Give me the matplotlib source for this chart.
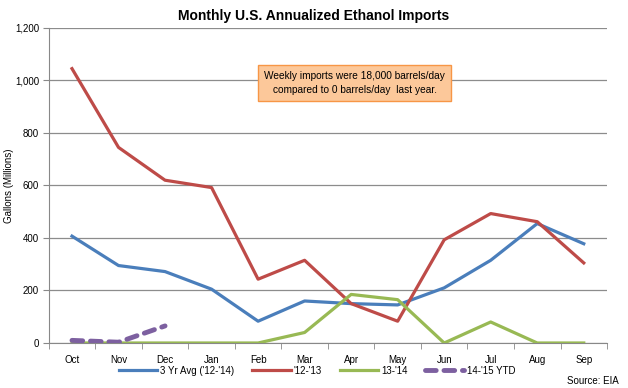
import matplotlib.pyplot as plt
import numpy as np
from matplotlib.ticker import FuncFormatter, FixedLocator

plt.rcParams['font.family'] = ['Liberation Sans', 'DejaVu Sans']

months = ["Oct", "Nov", "Dec", "Jan", "Feb", "Mar", "Apr", "May", "Jun", "Jul", "Aug", "Sep"]
avg_12_14 = [407, 295, 272, 205, 83, 160, 150, 145, 210, 315, 455, 378]
yr_12_13 = [1045, 745, 620, 592, 243, 315, 150, 83, 393, 493, 462, 305]
yr_13_14 = [0, 0, 0, 0, 0, 40, 185, 165, 0, 80, 0, 0]
ytd_14_15 = [10, 3, 65]

fig = plt.figure(figsize=(6.28, 3.88), dpi=100)
ax = fig.add_axes([0.0776, 0.116, 0.889, 0.812])

x = np.arange(len(months))
ax.plot(x, avg_12_14, color="#4a7ebb", lw=2.3, label="3 Yr Avg ('12-'14)", zorder=3)
ax.plot(x, yr_12_13, color="#be4b48", lw=2.3, label="'12-'13", zorder=3)
ax.plot(x, yr_13_14, color="#98b954", lw=2.3, label="13-'14", zorder=3)
ax.plot(x[:len(ytd_14_15)], ytd_14_15, color="#7d60a0", lw=3.5, ls=(0, (2.2, 1.6)),
        dash_capstyle="round", label="14-'15 YTD", zorder=4)

ax.set_xlim(-0.5, len(months) - 0.5)
ax.set_ylim(0, 1200)
ax.set_yticks(range(0, 1201, 200))
ax.yaxis.set_major_formatter(FuncFormatter(lambda v, p: f"{int(v):,}"))
ax.set_xticks(x)
ax.set_xticklabels(months)
ax.xaxis.set_minor_locator(FixedLocator(np.arange(-0.5, len(months), 1)))
ax.tick_params(axis="x", which="major", length=0, pad=9, labelsize=7)
ax.tick_params(axis="x", which="minor", length=4, color="#888888", direction="out")
ax.tick_params(axis="y", length=4, color="#888888", labelsize=7, pad=3)

ax.grid(axis="y", color="#8c8c8c", lw=0.9, zorder=0)
for s in ["top", "right"]:
    ax.spines[s].set_visible(False)
for s in ["left", "bottom"]:
    ax.spines[s].set_color("#888888")

ax.set_ylabel("Gallons (Millions)", fontsize=7)
ax.yaxis.set_label_coords(-0.063, 0.5)
fig.text(0.5, 0.96, "Monthly U.S. Annualized Ethanol Imports", ha="center", va="center",
         fontsize=10, fontweight="bold")

ax.text(0.548, 0.825,
        "Weekly imports were 18,000 barrels/day\ncompared to 0 barrels/day  last year.",
        transform=ax.transAxes, ha="center", va="center", fontsize=7.3, linespacing=1.4,
        bbox=dict(boxstyle="square,pad=0.6", fc="#fcc89a", ec="#f79646", lw=1.0), zorder=5)

fig.legend(loc="center", bbox_to_anchor=(0.505, 0.045), ncol=4, frameon=False,
           fontsize=7, handlelength=4.0, columnspacing=1.8, handletextpad=0.3)
fig.text(0.985, 0.018, "Source: EIA", ha="right", va="center", fontsize=7)

fig.savefig("out.png", dpi=100)
